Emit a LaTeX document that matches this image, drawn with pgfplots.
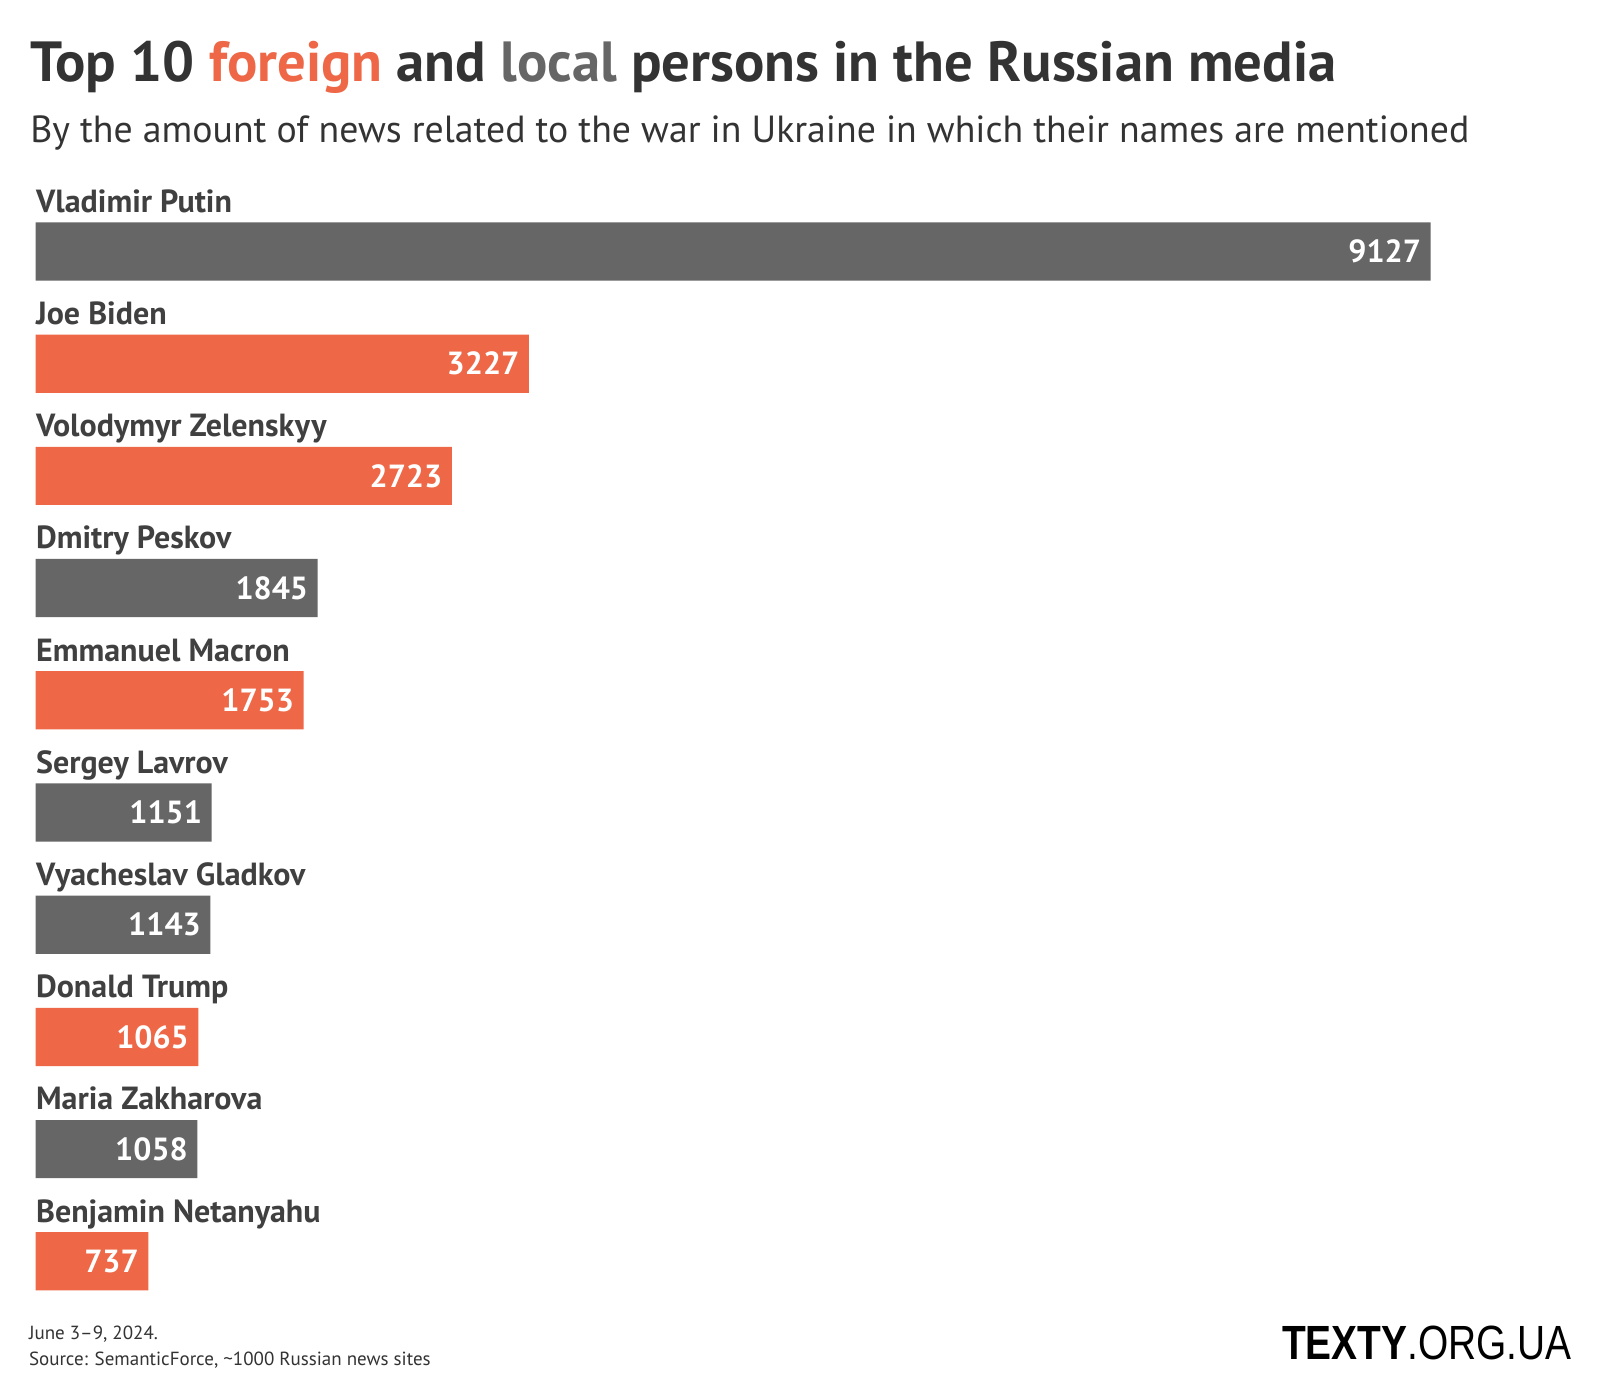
\documentclass[border=0pt]{standalone}
\usepackage{pgfplots}
\pgfplotsset{compat=1.18}
\usepackage{fontspec}
\setmainfont{PT Sans}
\newfontfamily\logofont{Liberation Sans}
\definecolor{grayb}{HTML}{666666}
\definecolor{orangeb}{HTML}{EE6847}
\definecolor{titlec}{HTML}{333333}
\definecolor{labelc}{HTML}{404040}
\begin{document}
\begin{tikzpicture}[x=1pt,y=1pt]
\fill[white] (0,0) rectangle (800,700);
\node[anchor=base west, inner sep=0, text=titlec, font=\fontsize{28.3}{31}\selectfont\bfseries] at (15.0,659.2)
  {Top 10 \textcolor{orangeb}{foreign} and \textcolor{grayb}{local} persons in the Russian media};
\node[anchor=base west, inner sep=0, text=titlec, font=\fontsize{18.9}{22}\selectfont] at (15.0,628.6)
  {By the amount of news related to the war in Ukraine in which their names are mentioned};
\node[anchor=base west, inner sep=0, text=titlec, font=\fontsize{9.5}{11}\selectfont] at (14.3,30)
  {June 3–9, 2024.};
\node[anchor=base west, inner sep=0, text=titlec, font=\fontsize{9.5}{11}\selectfont] at (14.3,17.3)
  {Source: SemanticForce, \textasciitilde1000 Russian news sites};
\node[anchor=base west, inner sep=0, text=black, font=\fontsize{24}{28}\selectfont\logofont] at (640.8,20)
  {\scalebox{0.81}[1]{\textbf{TEXTY}.ORG.UA}};
\begin{axis}[
  at={(17.85pt,602.3pt)}, anchor=north west,
  scale only axis, width=697.45pt, height=561pt,
  xmin=0, xmax=9127, ymin=-0.5, ymax=9.5, y dir=reverse,
  axis lines=none, clip=false,
  xbar, bar width=29.1pt, bar shift=0pt,
  nodes near coords,
  /pgf/number format/1000 sep={},
  /pgf/number format/assume math mode=true,
  every node near coord/.append style={anchor=east, text=white, inner sep=0pt, xshift=-4.6pt,
     font=\fontsize{16}{18}\selectfont\bfseries},
]
\addplot[fill=grayb, draw=none] coordinates {(9127,0) (1845,3) (1151,5) (1143,6) (1058,8)};
\addplot[fill=orangeb, draw=none] coordinates {(3227,1) (2723,2) (1753,4) (1065,7) (737,9)};
\tikzset{lbl/.style={anchor=base west, inner sep=0pt, text=labelc, yshift=19.6pt, font=\fontsize{16}{19}\selectfont\bfseries}}
\node[lbl] at (axis cs:0,0) {Vladimir Putin};
\node[lbl] at (axis cs:0,1) {Joe Biden};
\node[lbl] at (axis cs:0,2) {Volodymyr Zelenskyy};
\node[lbl] at (axis cs:0,3) {Dmitry Peskov};
\node[lbl] at (axis cs:0,4) {Emmanuel Macron};
\node[lbl] at (axis cs:0,5) {Sergey Lavrov};
\node[lbl] at (axis cs:0,6) {Vyacheslav Gladkov};
\node[lbl] at (axis cs:0,7) {Donald Trump};
\node[lbl] at (axis cs:0,8) {Maria Zakharova};
\node[lbl] at (axis cs:0,9) {Benjamin Netanyahu};
\end{axis}
\end{tikzpicture}
\end{document}
